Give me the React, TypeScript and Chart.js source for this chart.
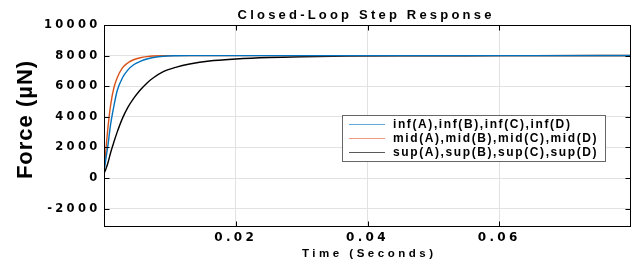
import { useEffect, useRef } from "react";
import { Chart, registerables } from "chart.js";

Chart.register(...registerables);

// ---- data ----
const timeSeconds = [
  0, 0.0003, 0.0006, 0.001, 0.0015, 0.002, 0.0028, 0.0036, 0.0045, 0.0055, 0.0065, 0.0075,
  0.009, 0.011, 0.013, 0.016, 0.02, 0.025, 0.03, 0.037, 0.045, 0.055, 0.065, 0.08,
];
const infForce = [
  400, 1300, 2150, 3500, 4700, 5700, 6550, 7050, 7400, 7620, 7780, 7880,
  7960, 7990, 8000, 8000, 8000, 8000, 8000, 8000, 8000, 8000, 8000, 8000,
];
const midForce = [
  450, 1900, 3300, 4750, 5900, 6550, 7200, 7520, 7730, 7860, 7930, 7970,
  7990, 8000, 8000, 8000, 8000, 8000, 8000, 8000, 8000, 8000, 8000, 8000,
];
const supForce = [
  300, 600, 1000, 1650, 2350, 3000, 3900, 4600, 5200, 5750, 6200, 6550,
  6950, 7250, 7450, 7650, 7780, 7880, 7930, 7965, 7985, 7995, 8000, 8005,
];
const seriesLabels = [
  "inf(A),inf(B),inf(C),inf(D)",
  "mid(A),mid(B),mid(C),mid(D)",
  "sup(A),sup(B),sup(C),sup(D)",
];
const xTickValues = [0.02, 0.04, 0.06];
const yTickValues = [-2000, 0, 2000, 4000, 6000, 8000, 10000];
const X_MIN = 0;
const X_MAX = 0.08;
const Y_MIN = -3200;
const Y_MAX = 10000;

const chartTitle = "Closed-Loop Step Response";
const xTitle = "Time (Seconds)";
const yTitle = "Force (µN)";

// ---- styles ----
const seriesColors = ["#0072BD", "#D95319", "#000000"];
const legendColors = ["#62a6da", "#ef9c7c", "#5a5a5a"];
const SANS = "'Liberation Sans', Arial, sans-serif";
const WIDE = "'DejaVu Sans', sans-serif";

function drawSpaced(ctx: CanvasRenderingContext2D, text: string, x: number, y: number, spacing: number, align: "left" | "center") {
  ctx.letterSpacing = spacing + "px";
  const w = ctx.measureText(text).width - spacing;
  ctx.textAlign = "left";
  const sx = align === "center" ? x - w / 2 : x;
  ctx.fillText(text, sx, y);
  ctx.letterSpacing = "0px";
}

const decorPlugin = {
  id: "decor",
  beforeDraw(chart: any) {
    chart.ctx.letterSpacing = "3.3px";
  },
  beforeDatasetsDraw(chart: any) {
    chart.ctx.letterSpacing = "0px";
  },
  afterDraw(chart: any) {
    const ctx: CanvasRenderingContext2D = chart.ctx;
    const { left, right, top, bottom } = chart.chartArea;
    const xs = chart.scales.x;
    const ys = chart.scales.y;
    ctx.save();
    ctx.letterSpacing = "0px";
    // frame
    ctx.strokeStyle = "#000";
    ctx.lineWidth = 1;
    const L = Math.round(left) + 0.5;
    const R = Math.round(right) - 0.5;
    const T = Math.round(top) + 0.5;
    const B = Math.round(bottom) - 0.5;
    ctx.strokeRect(L, T, R - L, B - T);
    // inward ticks
    ctx.beginPath();
    for (const v of yTickValues) {
      const y = Math.round(ys.getPixelForValue(v)) + 0.5;
      ctx.moveTo(L, y);
      ctx.lineTo(L + 5, y);
      ctx.moveTo(R, y);
      ctx.lineTo(R - 5, y);
    }
    for (const v of xTickValues) {
      const x = Math.round(xs.getPixelForValue(v)) + 0.5;
      ctx.moveTo(x, B);
      ctx.lineTo(x, B - 5);
      ctx.moveTo(x, T);
      ctx.lineTo(x, T + 5);
    }
    ctx.stroke();

    // title
    ctx.fillStyle = "#000";
    ctx.textBaseline = "alphabetic";
    ctx.font = `bold 13px ${SANS}`;
    drawSpaced(ctx, chartTitle, (left + right) / 2 - 3, 19, 3.2, "center");
    // x title
    ctx.font = `bold 11.5px ${SANS}`;
    drawSpaced(ctx, xTitle, (left + right) / 2, 257, 3.5, "center");
    // y title
    ctx.save();
    ctx.translate(32, (top + bottom) / 2 - 6);
    ctx.rotate(-Math.PI / 2);
    ctx.font = `bold 22px ${SANS}`;
    drawSpaced(ctx, yTitle, 0, 0, 1, "center");
    ctx.restore();

    // legend
    const lx = right - 289;
    const lt = top + 90;
    const lw = 263;
    const lh = 46;
    ctx.fillStyle = "#fff";
    ctx.fillRect(lx, lt, lw, lh);
    ctx.strokeStyle = "#666";
    ctx.lineWidth = 1;
    ctx.strokeRect(Math.round(lx) + 0.5, Math.round(lt) + 0.5, lw, lh);
    ctx.font = `bold 12px ${SANS}`;
    ctx.textBaseline = "middle";
    seriesLabels.forEach((lab, i) => {
      const y = lt + 9.5 + i * 14;
      ctx.strokeStyle = legendColors[i];
      ctx.lineWidth = 1;
      ctx.beginPath();
      ctx.moveTo(lx + 7, y);
      ctx.lineTo(lx + 43, y);
      ctx.stroke();
      ctx.fillStyle = "#000";
      drawSpaced(ctx, lab, lx + 51, y + 0.5, 1.6, "left");
    });
    ctx.restore();
  },
};

export default function App() {
  const ref = useRef<HTMLCanvasElement | null>(null);
  useEffect(() => {
    if (!ref.current) return;
    const mk = (vals: number[]) => timeSeconds.map((t, i) => ({ x: t, y: vals[i] }));
    const chart = new Chart(ref.current, {
      type: "line",
      data: {
        datasets: [infForce, midForce, supForce].map((vals, i) => ({
          label: seriesLabels[i],
          data: mk(vals),
          borderColor: seriesColors[i],
          backgroundColor: seriesColors[i],
          borderWidth: 1.4,
          pointRadius: 0,
          cubicInterpolationMode: "monotone" as const,
          fill: false,
        })),
      },
      options: {
        responsive: false,
        animation: false,
        devicePixelRatio: 1,
        layout: { padding: { left: 0, right: 6, top: 25, bottom: 0 } },
        plugins: {
          legend: { display: false },
          title: { display: false },
          tooltip: { enabled: false },
        },
        scales: {
          x: {
            type: "linear",
            min: X_MIN,
            max: X_MAX,
            afterBuildTicks: (s: any) => {
              s.ticks = xTickValues.map((v) => ({ value: v }));
            },
            afterFit: (s: any) => {
              s.height = 42;
            },
            grid: { color: "#e2e2e2", drawTicks: false },
            border: { display: false },
            ticks: {
              padding: 4,
              color: "#000",
              maxRotation: 0,
              autoSkip: false,
              font: { family: WIDE, weight: "bold", size: 12 },
              callback: (v: any) => Number(v).toFixed(2),
            },
          },
          y: {
            type: "linear",
            min: Y_MIN,
            max: Y_MAX,
            afterBuildTicks: (s: any) => {
              s.ticks = yTickValues.map((v) => ({ value: v }));
            },
            afterFit: (s: any) => {
              s.width = 104;
            },
            grid: { color: "#e2e2e2", drawTicks: false },
            border: { display: false },
            ticks: {
              padding: 3.5,
              color: "#000",
              autoSkip: false,
              font: { family: WIDE, weight: "bold", size: 11.5 },
              callback: (v: any) => String(v),
            },
          },
        },
      },
      plugins: [decorPlugin],
    });
    return () => chart.destroy();
  }, []);
  return (
    <div style={{ position: "fixed", left: 0, top: 0, width: 637, height: 269, background: "#fff" }}>
      <canvas ref={ref} width={637} height={269} style={{ width: 637, height: 269, display: "block" }} />
    </div>
  );
}
